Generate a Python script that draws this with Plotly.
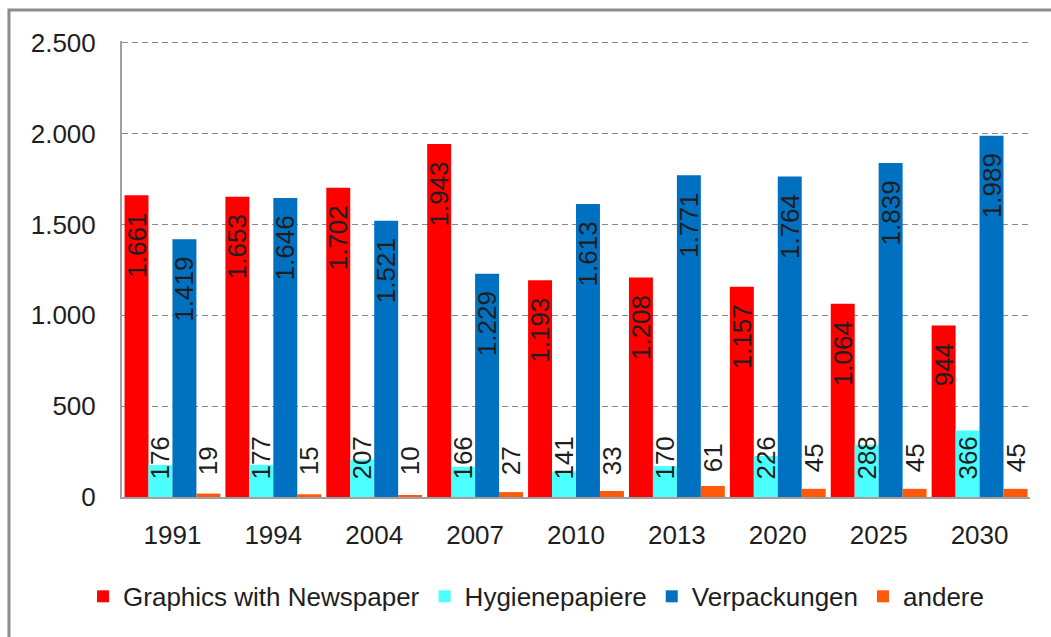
import plotly.graph_objects as go

years = ["1991", "1994", "2004", "2007", "2010", "2013", "2020", "2025", "2030"]
graphics = [1661, 1653, 1702, 1943, 1193, 1208, 1157, 1064, 944]
hygiene = [176, 177, 207, 166, 141, 170, 226, 288, 366]
packaging = [1419, 1646, 1521, 1229, 1613, 1771, 1764, 1839, 1989]
other = [19, 15, 10, 27, 33, 61, 45, 45, 45]

names = ["Graphics with Newspaper", "Hygienepapiere", "Verpackungen", "andere"]
colors = ["#FF0000", "#4BFFFF", "#0070C0", "#FF5A0A"]
series = [graphics, hygiene, packaging, other]

FONT = "Liberation Sans"
TXT = "#1e1e1e"
NB = "\u00A0"

fig = go.Figure()
for name, vals, col, i in zip(names, series, colors, range(4)):
    big = i in (0, 2)
    if big:
        tmpl = "%{y:,}" + NB * 2
        anchor = "end"
    else:
        tmpl = NB * (2 if i == 1 else 3) + "%{y:,}"
        anchor = "start"
    fig.add_trace(go.Bar(
        name=name, x=years, y=vals,
        marker=dict(color=col, line=dict(width=0)),
        texttemplate=tmpl, textposition="inside", insidetextanchor=anchor,
        textangle=-90, constraintext="none",
        textfont=dict(family=FONT, size=26, color=TXT),
        hoverinfo="skip",
    ))

fig.update_layout(
    width=1051, height=637,
    barmode="group", bargap=0.05, bargroupgap=0,
    separators=",.",
    paper_bgcolor="white", plot_bgcolor="white",
    margin=dict(l=122, r=21, t=41, b=140, autoexpand=False),
    font=dict(family=FONT, size=26, color=TXT),
    showlegend=True,
    legend=dict(orientation="h", x=0.456, xanchor="center", y=-0.218, yanchor="middle",
                font=dict(family=FONT, size=26, color=TXT), itemwidth=30,
                traceorder="normal"),
    xaxis=dict(type="category", showline=True, linecolor="#a0a0a0", linewidth=2,
               showgrid=False, ticks="", ticklabelstandoff=14, automargin=False,
               tickfont=dict(family=FONT, size=26, color=TXT)),
    yaxis=dict(range=[0, 2510], tickvals=[0, 500, 1000, 1500, 2000, 2500],
               tickformat=",", showline=True, automargin=False,
               linecolor="#a0a0a0", linewidth=2, showgrid=True, gridcolor="#8a8a8a",
               gridwidth=1, griddash="6px,4px", zeroline=False, ticks="",
               ticklabelstandoff=19,
               tickfont=dict(family=FONT, size=26, color=TXT)),
    shapes=[dict(type="rect", xref="paper", yref="paper",
                 x0=-0.1245, x1=1.2, y0=-0.6, y1=1.068,
                 line=dict(color="#8c8c8c", width=3), fillcolor="rgba(0,0,0,0)",
                 layer="below")],
)

fig.write_html("out.html", config={"displayModeBar": False},
               post_script="document.body.style.margin='0';")
